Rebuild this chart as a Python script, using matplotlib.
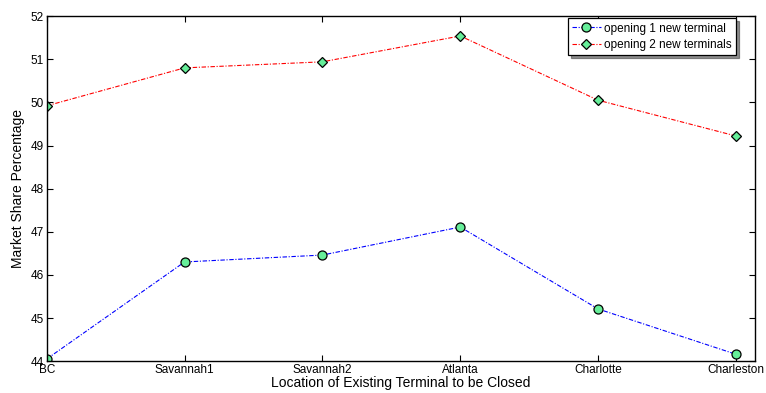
import matplotlib
matplotlib.use("Agg")
import matplotlib.pyplot as plt

plt.rcParams['font.family'] = ['Liberation Sans', 'DejaVu Sans']

# locations (x axis) and market share values
locations = ["BC", "Savannah1", "Savannah2", "Atlanta", "Charlotte", "Charleston"]
one_terminal = [44.05, 46.30, 46.46, 47.11, 45.21, 44.16]
two_terminals = [49.92, 50.80, 50.94, 51.54, 50.05, 49.22]

fig = plt.figure(figsize=(7.66, 3.93), dpi=100)
ax = fig.add_axes([0.061, 0.081, 0.925, 0.878])

x = list(range(len(locations)))
ax.plot(x, one_terminal, color="blue", linestyle=(0, (4, 1.5, 1, 1.5)), linewidth=0.8,
        marker="o", markersize=6.5, markerfacecolor="#66ee99", markeredgecolor="black",
        markeredgewidth=0.9, label="opening 1 new terminal")
ax.plot(x, two_terminals, color="red", linestyle=(0, (4, 1.5, 1, 1.5)), linewidth=0.8,
        marker="D", markersize=5.5, markerfacecolor="#66ee99", markeredgecolor="black",
        markeredgewidth=0.9, label="opening 2 new terminals")

ax.set_xlim(0, 5.14)
ax.set_ylim(44, 52)
ax.set_xticks(x)
ax.set_xticklabels(locations)
ax.set_yticks(range(44, 53))
ax.tick_params(direction="in", labelsize=8.5, top=True, right=True, length=4, pad=2)
for s in ax.spines.values():
    s.set_linewidth(1.0)

ax.set_xlabel("Location of Existing Terminal to be Closed", fontsize=10, labelpad=0)
ax.set_ylabel("Market Share Percentage", fontsize=10, labelpad=4)

leg = ax.legend(loc="upper right", fontsize=8.5, fancybox=False, framealpha=1,
                edgecolor="black", borderpad=0.35, labelspacing=0.35, numpoints=1,
                handlelength=2.4, handletextpad=0.3, bbox_to_anchor=(0.976, 1.0),
                shadow={"color": "#444444", "alpha": 0.6}, borderaxespad=0.2)
leg.get_frame().set_linewidth(0.9)

fig.savefig("out.png", dpi=100)
